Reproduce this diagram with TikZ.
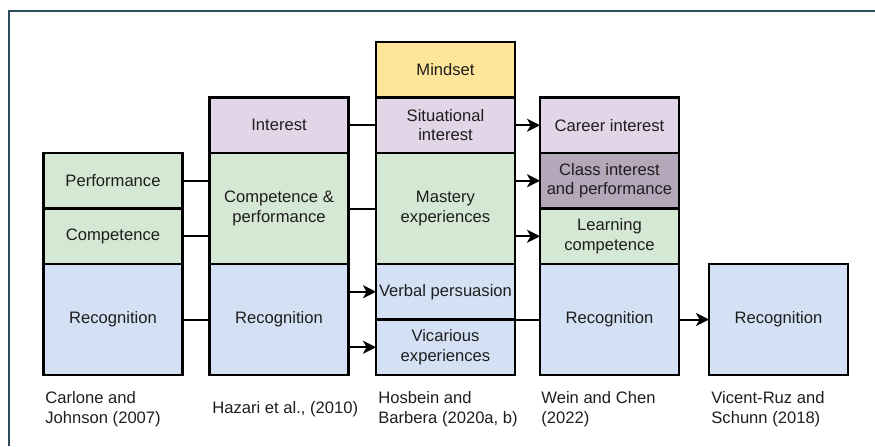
\documentclass[tikz,border=0pt]{standalone}
\usepackage{fontspec}
\setmainfont{Liberation Sans}
\usetikzlibrary{positioning,arrows.meta}
\definecolor{cgreen}{HTML}{D5E8D4}
\definecolor{cpurple}{HTML}{E1D5E7}
\definecolor{cmauve}{HTML}{B4A7B9}
\definecolor{cblue}{HTML}{D4E1F5}
\definecolor{cyellow}{HTML}{FFE599}
\definecolor{cframe}{HTML}{2B4A5A}
\definecolor{ctext}{HTML}{1E1E1E}

\begin{document}
\begin{tikzpicture}[
      x=0.5pt,y=-0.5pt,
      box/.style={
        draw,
        line width=1.3pt,
        outer sep=0pt,
        inner sep=1pt,
        minimum width=69.5pt,
        minimum height=27.75pt,
        align=center,
        text=ctext,
        font=\fontsize{8.3}{9.8}\selectfont
      },
      tall/.style={box,minimum height=55.5pt},
      greenbox/.style={fill=cgreen},
      purplebox/.style={fill=cpurple},
      mauvebox/.style={fill=cmauve},
      bluebox/.style={fill=cblue},
      yellowbox/.style={fill=cyellow},
      cite/.style={
        anchor=west,
        inner sep=0pt,
        align=left,
        text=ctext,
        font=\fontsize{8.3}{9.8}\selectfont
      },
      link/.style={line width=1pt},
      arr/.style={link,-{Stealth[length=6.5pt,width=6.5pt,inset=1.8pt]}},
      node distance=0pt
      ]
      \useasboundingbox (0,0) rectangle (875,446);
      \draw[cframe,line width=0.8pt] (9,446) -- (9,11) -- (875,11);

      % Carlone and Johnson
      \node[box,greenbox] at (113,180.75) (perf) {Performance};
      \node[box,greenbox,below=of perf] (comp) {Competence};
      \node[tall,bluebox,below=of comp] (rec1) {Recognition};

      % Hazari et al.
      \node[box,purplebox] at (279,125.25) (interest) {Interest};
      \node[tall,greenbox,below=of interest] (cp) {Competence \&\\performance};
      \node[tall,bluebox,below=of cp] (rec2) {Recognition};

      % Hosbein and Barbera
      \node[box,yellowbox] at (445.5,69.75) (mindset) {Mindset};
      \node[box,purplebox,below=of mindset] (situ) {Situational\\interest};
      \node[tall,greenbox,below=of situ] (mastery) {Mastery\\experiences};
      \node[box,bluebox,below=of mastery] (verbal) {Verbal persuasion};
      \node[box,bluebox,below=of verbal] (vicar) {Vicarious\\experiences};

      % Wein and Chen
      \node[box,purplebox] at (609.5,125.25) (career) {Career interest};
      \node[box,mauvebox,below=of career] (classint) {Class interest\\and performance};
      \node[box,greenbox,below=of classint] (learn) {Learning\\competence};
      \node[tall,bluebox,below=of learn] (rec4) {Recognition};

      % Vicent-Ruz and Schunn
      \node[tall,bluebox] at (778.5,319.5) (rec5) {Recognition};

      \node[cite] at (45,409) (c1) {Carlone and\\Johnson (2007)};
      \node[cite] at (212,409) (c2) {Hazari et al., (2010)};
      \node[cite] at (378,409) (c3) {Hosbein and\\Barbera (2020a, b)};
      \node[cite] at (541,409) (c4) {Wein and Chen\\(2022)};
      \node[cite] at (711,409) (c5) {Vicent-Ruz and\\Schunn (2018)};

      \draw[link] (perf) -- (perf -| cp.west);
      \draw[link] (comp) -- (comp -| cp.west);
      \draw[link] (rec1) -- (rec2);
      \draw[link] (interest) -- (situ);
      \draw[link] (cp) -- (mastery);
      \draw[arr] (rec2.east |- verbal) -- (verbal.west);
      \draw[arr] (rec2.east |- vicar) -- (vicar.west);
      \draw[arr] (situ) -- (career);
      \draw[arr] (mastery.east |- classint) -- (classint.west);
      \draw[arr] (mastery.east |- learn) -- (learn.west);
      \draw[link] (verbal.south west) -- (rec4.west);
      \draw[arr] (rec4) -- (rec5);
    \end{tikzpicture}
\end{document}
